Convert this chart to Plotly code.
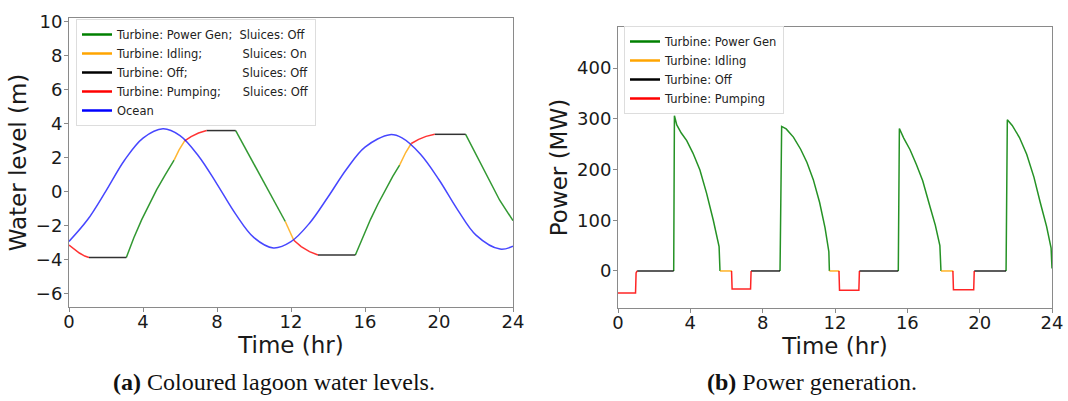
import plotly.graph_objects as go

# ---------------- data: left panel (water levels, m) ----------------
ocean_t = [0, 1, 2, 3, 4, 5.08, 6, 7, 8, 9, 10, 11.05, 12, 13, 14, 15, 16, 17.35, 18, 19, 20, 21, 22, 23.3, 24]
ocean_v = [-2.92, -1.65, 0.05, 1.85, 3.15, 3.70, 3.30, 2.10, 0.45, -1.30, -2.70, -3.30, -2.93, -1.85, -0.31, 1.32, 2.62, 3.35, 3.16, 2.20, 0.70, -1.05, -2.55, -3.37, -3.20]

lag_gen_t = [3.1, 3.5, 3.93, 4.34, 4.74, 5.2, 5.68, None,
             9.01, 10.35, 11.69, None,
             15.48, 15.9, 16.3, 16.7, 17.1, 17.5, 17.87, None,
             21.44, 22.36, 23.28, 24.0]
lag_gen_v = [-3.86, -2.72, -1.64, -0.70, 0.12, 0.99, 1.85, None,
             3.59, 0.95, -1.75, None,
             -3.72, -2.65, -1.62, -0.72, 0.12, 0.90, 1.56, None,
             3.37, 1.44, -0.50, -1.70]

lag_idle_t = [5.68, 5.95, 6.25, None, 11.69, 11.92, 12.15, None, 17.87, 18.2, 18.5]
lag_idle_v = [1.85, 2.45, 2.98, None, -1.75, -2.35, -2.85, None, 1.56, 2.30, 2.83]

lag_off_t = [1.08, 3.1, None, 7.44, 9.01, None, 13.46, 15.48, None, 19.77, 21.44]
lag_off_v = [-3.86, -3.86, None, 3.59, 3.59, None, -3.72, -3.72, None, 3.37, 3.37]

lag_pump_t = [0, 0.3, 0.56, 0.85, 1.08, None,
              6.25, 6.6, 7.0, 7.44, None,
              12.15, 12.55, 13.0, 13.46, None,
              18.5, 18.9, 19.3, 19.77]
lag_pump_v = [-3.13, -3.40, -3.60, -3.78, -3.86, None,
              2.98, 3.24, 3.45, 3.59, None,
              -2.85, -3.22, -3.52, -3.72, None,
              2.83, 3.07, 3.25, 3.37]

# ---------------- data: right panel (power, MW) ----------------
pw_gen_t = [3.08, 3.12, 3.25, 3.5, 3.8, 4.15, 4.53, 4.9, 5.27, 5.59, 5.64, None,
            8.96, 9.05, 9.3, 9.7, 10.1, 10.45, 10.8, 11.15, 11.45, 11.66, 11.69, None,
            15.5, 15.56, 15.8, 16.15, 16.5, 16.85, 17.25, 17.55, 17.8, 17.86, None,
            21.46, 21.53, 21.8, 22.2, 22.6, 23.0, 23.35, 23.7, 23.95, 24.0]
pw_gen_p = [0, 306, 288, 272, 257, 232, 199, 153, 100, 48, 0, None,
            0, 285, 280, 264, 240, 214, 180, 135, 85, 38, 0, None,
            0, 281, 262, 239, 210, 178, 127, 90, 50, 0, None,
            0, 298, 287, 263, 230, 185, 135, 88, 45, 5]

pw_idle_t = [5.64, 6.30, None, 11.69, 12.24, None, 17.86, 18.54]
pw_idle_p = [0, 0, None, 0, 0, None, 0, 0]

pw_off_t = [1.06, 3.08, None, 7.36, 8.96, None, 13.35, 15.5, None, 19.7, 21.46]
pw_off_p = [0, 0, None, 0, 0, None, 0, 0, None, 0, 0]

pw_pump_t = [0, 0.97, 1.0, 1.06, None,
             6.28, 6.31, 7.33, 7.36, None,
             12.22, 12.25, 13.32, 13.35, None,
             18.52, 18.55, 19.67, 19.7]
pw_pump_p = [-43.5, -43.5, -4, 0, None,
             0, -35.5, -35.5, 0, None,
             0, -38, -38, 0, None,
             0, -37, -37, 0]

# ---------------- labels ----------------
NB = "\u00a0"
left_names = ["Turbine: Power Gen;" + NB * 2 + "Sluices: Off",
              "Turbine: Idling;" + NB * 11 + "Sluices: On",
              "Turbine: Off;" + NB * 15 + "Sluices: Off",
              "Turbine: Pumping;" + NB * 6 + "Sluices: Off",
              "Ocean"]
right_names = ["Turbine: Power Gen", "Turbine: Idling", "Turbine: Off", "Turbine: Pumping"]
state_colors = ["green", "orange", "black", "red"]
ocean_color = "blue"

x_ticks = [0, 4, 8, 12, 16, 20, 24]
left_y_ticks = [-6, -4, -2, 0, 2, 4, 6, 8, 10]
right_y_ticks = [0, 100, 200, 300, 400]

FONT = "DejaVu Sans"
fig = go.Figure()

lw = 1.5
left_series = [(lag_gen_t, lag_gen_v), (lag_idle_t, lag_idle_v), (lag_off_t, lag_off_v), (lag_pump_t, lag_pump_v)]
for (t, v), c in zip(left_series, state_colors):
    fig.add_trace(go.Scatter(x=t, y=v, mode="lines", line=dict(color=c, width=lw),
                             opacity=0.8, showlegend=False, xaxis="x", yaxis="y"))
fig.add_trace(go.Scatter(x=ocean_t, y=ocean_v, mode="lines",
                         line=dict(color=ocean_color, width=lw, shape="spline", smoothing=1.0),
                         opacity=0.72, showlegend=False, xaxis="x", yaxis="y"))
for name, c in zip(left_names, state_colors + [ocean_color]):
    fig.add_trace(go.Scatter(x=[None], y=[None], mode="lines", name=name, line=dict(color=c, width=2.5),
                             legend="legend", xaxis="x", yaxis="y"))

right_series = [(pw_gen_t, pw_gen_p), (pw_idle_t, pw_idle_p), (pw_off_t, pw_off_p), (pw_pump_t, pw_pump_p)]
for (t, p), c in zip(right_series, state_colors):
    fig.add_trace(go.Scatter(x=t, y=p, mode="lines", line=dict(color=c, width=lw),
                             opacity=0.85, showlegend=False, xaxis="x2", yaxis="y2"))
for name, c in zip(right_names, state_colors):
    fig.add_trace(go.Scatter(x=[None], y=[None], mode="lines", name=name, line=dict(color=c, width=2.5),
                             legend="legend2", xaxis="x2", yaxis="y2"))

W, H = 1068, 401
axis_common = dict(showline=True, mirror=True, linecolor="#8a8a8a", linewidth=1,
                   ticks="outside", ticklen=4, tickcolor="#8a8a8a", showgrid=False, zeroline=False,
                   tickfont=dict(family=FONT, size=18, color="#1a1a1a"), automargin=False)
xt = dict(ticklabelstandoff=-6)
yt = dict(ticklabelstandoff=-2)

fig.update_layout(
    width=W, height=H, margin=dict(l=0, r=0, t=0, b=0),
    paper_bgcolor="white", plot_bgcolor="white",
    font=dict(family=FONT, color="#1a1a1a"),
    xaxis=dict(domain=[69 / W, 513 / W], range=[0, 24], tickvals=x_ticks, anchor="y",
               title=dict(text="Time (hr)", font=dict(size=23), standoff=0), **axis_common, **xt),
    yaxis=dict(domain=[(H - 307) / H, (H - 18) / H], range=[-6.77, 10.2], tickvals=left_y_ticks, anchor="x",
               title=dict(text="Water level (m)", font=dict(size=23), standoff=2), **axis_common, **yt),
    xaxis2=dict(domain=[618 / W, 1052 / W], range=[0, 24], tickvals=x_ticks, anchor="y2",
                title=dict(text="Time (hr)", font=dict(size=23), standoff=0), **axis_common, **xt),
    yaxis2=dict(domain=[(H - 308) / H, (H - 27) / H], range=[-73, 481], tickvals=right_y_ticks, anchor="x2",
                title=dict(text="Power (MW)", font=dict(size=23), standoff=2), **axis_common, **yt),
    legend=dict(x=76 / W, y=1 - 19 / H, xanchor="left", yanchor="top", bgcolor="white",
                bordercolor="#dddddd", borderwidth=1, font=dict(family=FONT, size=11.5, color="#222"),
                tracegroupgap=0, itemwidth=30),
    legend2=dict(x=624 / W, y=1 - 26 / H, xanchor="left", yanchor="top", bgcolor="white",
                 bordercolor="#dddddd", borderwidth=1, font=dict(family=FONT, size=11.5, color="#222"),
                 tracegroupgap=0, itemwidth=30),
    annotations=[
        dict(text="<b>(a)</b> Coloured lagoon water levels.", x=274 / W, y=1 - 382 / H, xref="paper", yref="paper",
             showarrow=False, xanchor="center", yanchor="middle",
             font=dict(family="Liberation Serif", size=24, color="#111")),
        dict(text="<b>(b)</b> Power generation.", x=812 / W, y=1 - 382 / H, xref="paper", yref="paper",
             showarrow=False, xanchor="center", yanchor="middle",
             font=dict(family="Liberation Serif", size=24, color="#111")),
    ],
)

fig.write_html("out.html")
